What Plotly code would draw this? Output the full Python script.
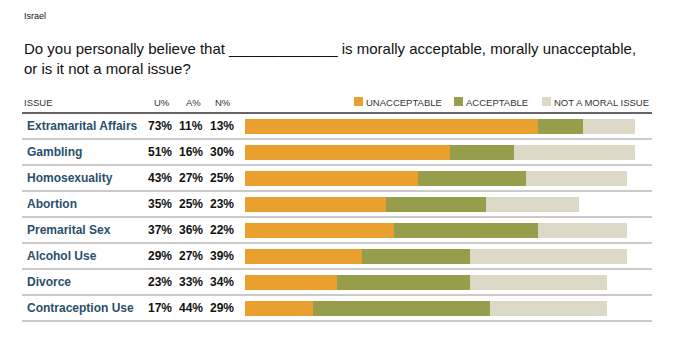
import plotly.graph_objects as go

W, H = 676, 343

issues = ["Extramarital Affairs", "Gambling", "Homosexuality", "Abortion",
          "Premarital Sex", "Alcohol Use", "Divorce", "Contraception Use"]
unacceptable = [73, 51, 43, 35, 37, 29, 23, 17]
acceptable = [11, 16, 27, 25, 36, 27, 33, 44]
not_moral = [13, 30, 25, 23, 22, 39, 34, 29]

series_names = ["UNACCEPTABLE", "ACCEPTABLE", "NOT A MORAL ISSUE"]
colors = ["#E9A02F", "#969E4B", "#DCD9C6"]
label_color = "#2B4F6C"
FONT = "Liberation Sans, Arial, sans-serif"


def px(x):
    return x / W


def py(y):
    return 1 - y / H


# plot area geometry (pixels)
bar_left, bar_right = 245, 652
px_per_pct = 4.02
row_top, row_h = 113, 26
n = len(issues)

fig = go.Figure()
for name, vals, col in zip(series_names, [unacceptable, acceptable, not_moral], colors):
    fig.add_trace(go.Bar(
        y=issues, x=vals, orientation="h", name=name,
        marker=dict(color=col, line=dict(width=0)),
        width=15 / row_h, showlegend=False, hoverinfo="skip",
    ))

annotations = []
shapes = []

# header texts
annotations.append(dict(x=px(22), y=py(16), xref="paper", yref="paper", text="Israel",
                        showarrow=False, xanchor="left", yanchor="middle",
                        font=dict(family=FONT, size=9, color="#111")))
annotations.append(dict(x=px(22), y=py(48), xref="paper", yref="paper",
                        text="Do you personally believe that _____________ is morally acceptable, morally unacceptable,",
                        showarrow=False, xanchor="left", yanchor="middle",
                        font=dict(family=FONT, size=15, color="#111")))
annotations.append(dict(x=px(22), y=py(68), xref="paper", yref="paper",
                        text="or is it not a moral issue?",
                        showarrow=False, xanchor="left", yanchor="middle",
                        font=dict(family=FONT, size=15, color="#111")))

hdr_font = dict(family=FONT, size=9.5, color="#333")
annotations.append(dict(x=px(22), y=py(102), xref="paper", yref="paper", text="ISSUE",
                        showarrow=False, xanchor="left", yanchor="middle", font=hdr_font))
for txt, xr in zip(["U%", "A%", "N%"], [172, 203, 233]):
    annotations.append(dict(x=px(xr), y=py(102), xref="paper", yref="paper", text=txt,
                            showarrow=False, xanchor="right", yanchor="middle", font=hdr_font))

# legend: swatches + labels
for name, col, sx in zip(series_names, colors, [354, 454, 542]):
    shapes.append(dict(type="rect", xref="paper", yref="paper",
                       x0=px(sx), x1=px(sx + 9), y0=py(106), y1=py(97),
                       fillcolor=col, line=dict(width=0)))
    annotations.append(dict(x=px(sx + 10), y=py(102), xref="paper", yref="paper", text=name,
                            showarrow=False, xanchor="left", yanchor="middle", font=hdr_font))

# header rule
shapes.append(dict(type="line", xref="paper", yref="paper", x0=px(22), x1=px(652),
                   y0=py(113), y1=py(113), line=dict(color="#666", width=2)))

# row labels, values and separators
for i, iss in enumerate(issues):
    annotations.append(dict(x=px(25), y=iss, xref="paper", yref="y", text="<b>%s</b>" % iss,
                            showarrow=False, xanchor="left", yanchor="middle",
                            font=dict(family=FONT, size=12, color=label_color)))
    for v, xr in zip([unacceptable[i], acceptable[i], not_moral[i]], [174, 205, 236]):
        annotations.append(dict(x=px(xr), y=iss, xref="paper", yref="y", text="<b>%d%%</b>" % v,
                                showarrow=False, xanchor="right", yanchor="middle",
                                font=dict(family=FONT, size=12, color="#111")))
    ysep = row_top + row_h * (i + 1)
    shapes.append(dict(type="line", xref="paper", yref="paper", x0=px(22), x1=px(652),
                       y0=py(ysep), y1=py(ysep), line=dict(color="#CACACA", width=2)))

fig.update_layout(
    width=W, height=H, margin=dict(l=0, r=0, t=0, b=0),
    paper_bgcolor="white", plot_bgcolor="white",
    barmode="stack", bargap=0,
    xaxis=dict(domain=[px(bar_left), px(bar_right)],
               range=[0, (bar_right - bar_left) / px_per_pct],
               visible=False, fixedrange=True),
    yaxis=dict(domain=[py(row_top + row_h * n), py(row_top)],
               range=[n - 0.5, -0.5], categoryorder="array", categoryarray=issues,
               visible=False, fixedrange=True),
    annotations=annotations, shapes=shapes,
    font=dict(family=FONT),
)

fig.write_html("out.html", config={"displayModeBar": False})
